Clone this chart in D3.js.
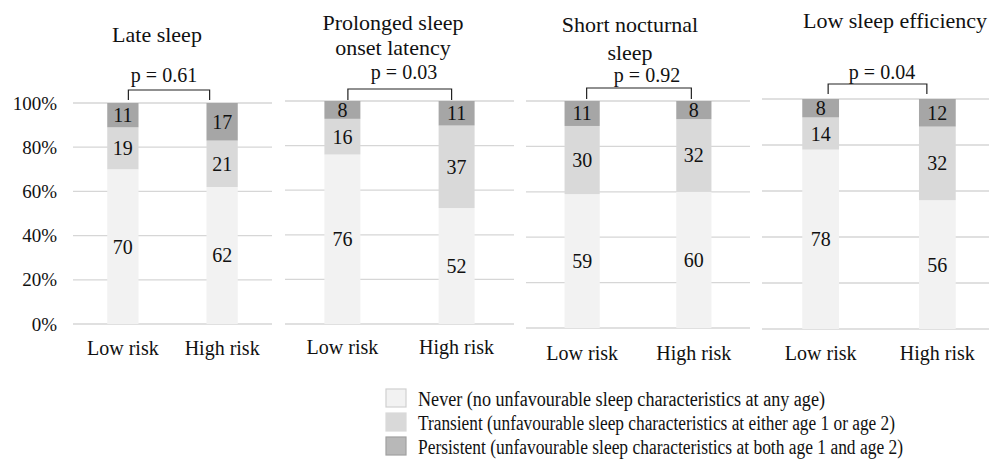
<!DOCTYPE html>
<html><head><meta charset="utf-8">
<script src="https://cdn.jsdelivr.net/npm/d3@7"></script>
<style>
body{margin:0;background:#fff;}
</style></head>
<body><svg id="c" width="989" height="465"></svg>
<script>
// ---- data ----
const panelTitles = [["Late sleep"], ["Prolonged sleep", "onset latency"], ["Short nocturnal", "sleep"], ["Low sleep efficiency"]];
const categories = ["Low risk", "High risk"];
const neverVals = [[70, 62], [76, 52], [59, 60], [78, 56]];
const transientVals = [[19, 21], [16, 37], [30, 32], [14, 32]];
const persistentVals = [[11, 17], [8, 11], [11, 8], [8, 12]];
const pValues = ["p = 0.61", "p = 0.03", "p = 0.92", "p = 0.04"];
const tickValues = [0, 20, 40, 60, 80, 100];
const seriesKeys = ["never", "transient", "persistent"];
const legendLabels = [
  "Never (no unfavourable sleep characteristics at any age)",
  "Transient (unfavourable sleep characteristics at either age 1 or age 2)",
  "Persistent (unfavourable sleep characteristics at both age 1 and age 2)"
];

// ---- layout / style ----
const FONT = '"Liberation Serif", "Times New Roman", serif';
const colors = {never: "#f2f2f2", transient: "#d9d9d9", persistent: "#a6a6a6"};
const layout = [
  {x0: 73, x1: 272, yTop: 103, yBot: 324, titleX: 157, titleY: [42], pX: 164, pY: 82, brTop: 90, brBot: 100, brL: 5.5, brR: -12.5, labelY: 355},
  {x0: 285, x1: 514, yTop: 101, yBot: 324, titleX: 393, titleY: [30, 55], pX: 404, pY: 79, brTop: 89, brBot: 100, brL: 5.5, brR: -5, labelY: 354},
  {x0: 526, x1: 750, yTop: 101, yBot: 328, titleX: 630, titleY: [32, 60], pX: 647, pY: 82, brTop: 88, brBot: 99, brL: 4.5, brR: -2.5, labelY: 360},
  {x0: 762, x1: 996, yTop: 99, yBot: 329, titleX: 895, titleY: [28], pX: 882, pY: 79, brTop: 84, brBot: 94, brL: 7.5, brR: -10.5, labelY: 360}
];

const svg = d3.select("#c");
const stack = d3.stack().keys(seriesKeys);

layout.forEach((L, pi) => {
  const g = svg.append("g");
  const x = d3.scaleBand().domain(categories).range([L.x0, L.x1]).paddingInner(0.685).paddingOuter(0.345);
  const y = d3.scaleLinear().domain([0, 100]).range([L.yBot, L.yTop]);

  // gridlines
  g.append("g").selectAll("line").data(tickValues).join("line")
    .attr("x1", L.x0).attr("x2", L.x1)
    .attr("y1", d => y(d)).attr("y2", d => y(d))
    .attr("stroke", "#d6d6d6").attr("stroke-width", 1.3);

  // y-axis labels (first panel only)
  if (pi === 0) {
    const ax = g.append("g").attr("transform", `translate(${L.x0 - 13},0)`)
      .call(d3.axisLeft(y).tickValues(tickValues).tickFormat(d => d + "%").tickSize(0));
    ax.select(".domain").remove();
    ax.selectAll("text").style("font-family", FONT).style("font-size", "19px").attr("fill", "#111");
  }

  // stacked bars
  const rows = categories.map((c, i) => ({cat: c, never: neverVals[pi][i], transient: transientVals[pi][i], persistent: persistentVals[pi][i]}));
  const stacked = stack(rows);
  stacked.forEach(s => {
    g.append("g").selectAll("rect").data(s).join("rect")
      .attr("x", d => x(d.data.cat)).attr("width", x.bandwidth())
      .attr("y", d => y(d[1])).attr("height", d => y(d[0]) - y(d[1]))
      .attr("fill", colors[s.key]);
    g.append("g").selectAll("text").data(s).join("text")
      .attr("x", d => x(d.data.cat) + x.bandwidth() / 2)
      .attr("y", d => (y(d[0]) + y(d[1])) / 2)
      .attr("dy", "0.35em").attr("text-anchor", "middle")
      .style("font-family", FONT).style("font-size", "20px").attr("fill", "#111")
      .text(d => d.data[s.key]);
  });

  // x-axis category labels
  const xa = g.append("g").attr("transform", `translate(0,${L.labelY - 17})`)
    .call(d3.axisBottom(x).tickSize(0));
  xa.select(".domain").remove();
  xa.selectAll("text").style("font-family", FONT).style("font-size", "20px").attr("fill", "#111").attr("dy", "0.71em");

  // title
  g.append("g").selectAll("text").data(panelTitles[pi]).join("text")
    .attr("x", L.titleX).attr("y", (d, i) => L.titleY[i])
    .attr("text-anchor", "middle").style("font-family", FONT).style("font-size", "22px").attr("fill", "#111")
    .text(d => d);

  // p-value and bracket
  g.append("text").attr("x", L.pX).attr("y", L.pY).attr("text-anchor", "middle")
    .style("font-family", FONT).style("font-size", "20px").attr("fill", "#111").text(pValues[pi]);
  const bl = x(categories[0]) + x.bandwidth() / 2 + L.brL;
  const br = x(categories[1]) + x.bandwidth() / 2 + L.brR;
  g.append("path")
    .attr("d", `M${bl},${L.brBot}V${L.brTop}H${br}V${L.brBot}`)
    .attr("fill", "none").attr("stroke", "#222").attr("stroke-width", 1.2);
});

// legend
const lg = svg.append("g");
const lgColors = [
  {fill: "#f2f2f2", stroke: "#d0d0d0"},
  {fill: "#d9d9d9", stroke: "#d9d9d9"},
  {fill: "#b8b8b8", stroke: "#a0a0a0"}
];
const lgY = [399, 423, 447];
const lgW = [407, 477, 485];
legendLabels.forEach((t, i) => {
  lg.append("rect").attr("x", 386).attr("y", lgY[i] - 10).attr("width", 20).attr("height", 18)
    .attr("fill", lgColors[i].fill).attr("stroke", lgColors[i].stroke).attr("stroke-width", 1.2);
  lg.append("text").attr("x", 418).attr("y", lgY[i]).attr("dy", "0.35em")
    .attr("textLength", lgW[i]).attr("lengthAdjust", "spacingAndGlyphs")
    .style("font-family", FONT).style("font-size", "20px").attr("fill", "#111").text(t);
});
</script></body></html>
